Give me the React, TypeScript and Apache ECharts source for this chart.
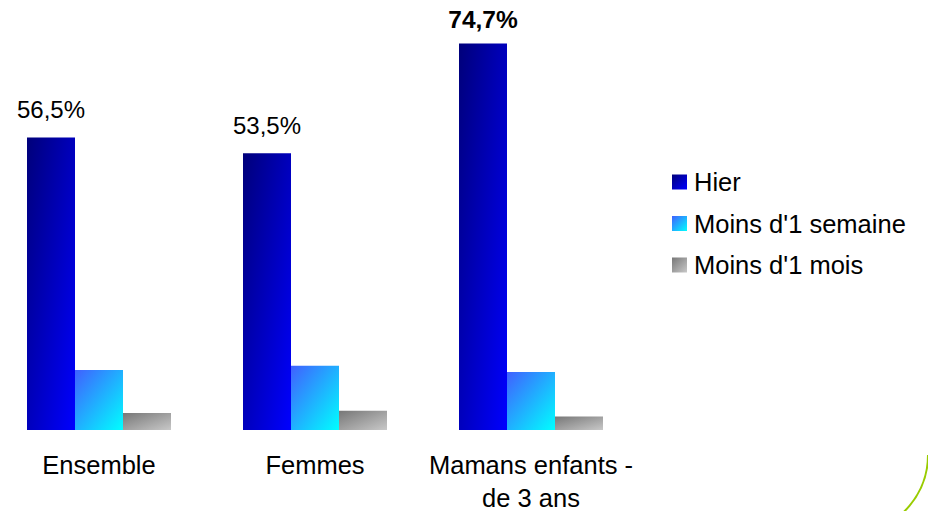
import React, { useEffect, useRef } from "react";
import * as echarts from "echarts";

const categories = ["Ensemble", "Femmes", "Mamans enfants -\nde 3 ans"];
const seriesNames = ["Hier", "Moins d'1 semaine", "Moins d'1 mois"];
const hier = [56.5, 53.5, 74.7];
const semaine = [11.6, 12.4, 11.2];
const mois = [3.3, 3.7, 2.6];

const FONT = "Liberation Sans, Arial, sans-serif";

const grad = (a: string, b: string) =>
  new echarts.graphic.LinearGradient(0, 0, 1, 1, [
    { offset: 0, color: a },
    { offset: 1, color: b },
  ]);

export default function App() {
  const ref = useRef<HTMLDivElement>(null);
  useEffect(() => {
    if (!ref.current) return;
    const chart = echarts.init(ref.current, undefined, { renderer: "svg" });
    const fmt = (v: number) => v.toFixed(1).replace(".", ",") + "%";
    chart.setOption({
      animation: false,
      backgroundColor: "#ffffff",
      textStyle: { fontFamily: FONT },
      grid: {
        left: -9,
        width: 648,
        top: 16,
        height: 414,
        containLabel: false,
        outerBoundsMode: "none",
      },
      xAxis: {
        type: "category",
        data: categories,
        axisLine: { show: false },
        axisTick: { show: false },
        axisLabel: {
          interval: 0,
          margin: 18,
          fontSize: 25.5,
          lineHeight: 33,
          color: "#000",
          fontFamily: FONT,
        },
      },
      yAxis: {
        type: "value",
        min: 0,
        max: 80,
        show: false,
        splitLine: { show: false },
      },
      legend: {
        orient: "vertical",
        left: 672,
        top: 169,
        padding: 0,
        itemWidth: 15,
        itemHeight: 15,
        itemGap: 15.5,
        icon: "rect",
        data: seriesNames,
        textStyle: { fontSize: 25.5, lineHeight: 26, color: "#000", fontFamily: FONT, padding: [0, 0, 0, 2] },
      },
      series: [
        {
          name: seriesNames[0],
          type: "bar",
          barWidth: 48,
          barGap: "0%",
          data: hier.map((v, i) => ({
            value: v,
            label: {
              show: true,
              position: "top",
              distance: i === 2 ? 12 : 16,
              formatter: () => fmt(v),
              fontSize: i === 2 ? 24.5 : 24,
              lineHeight: 24,
              fontWeight: i === 2 ? "bold" : "normal",
              color: "#000",
              fontFamily: FONT,
            },
          })),
          itemStyle: { color: grad("#00007a", "#0000ff") },
        },
        {
          name: seriesNames[1],
          type: "bar",
          barWidth: 48,
          barGap: "0%",
          data: semaine,
          itemStyle: { color: grad("#4060ff", "#00ffff") },
        },
        {
          name: seriesNames[2],
          type: "bar",
          barWidth: 48,
          barGap: "0%",
          data: mois,
          itemStyle: { color: grad("#777777", "#c8c8c8") },
        },
      ],
      graphic: [
        {
          type: "arc",
          shape: { cx: 849, cy: 455, r: 79, startAngle: 0, endAngle: 1.4 },
          style: { stroke: "#99cc00", lineWidth: 2, fill: "none" },
          silent: true,
        },
      ],
    });
    return () => chart.dispose();
  }, []);
  return (
    <div
      ref={ref}
      style={{ position: "absolute", left: 0, top: 0, width: 928, height: 511 }}
    />
  );
}
